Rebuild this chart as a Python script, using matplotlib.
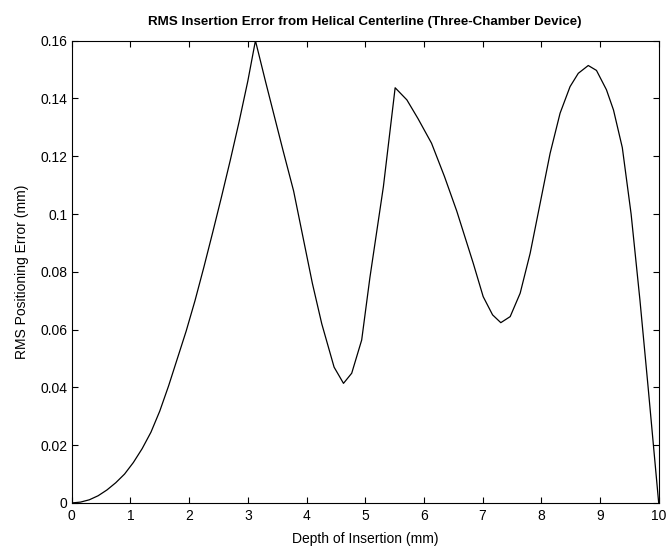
import matplotlib
matplotlib.use("Agg")
import matplotlib.pyplot as plt

# depth of insertion (mm) and RMS error (mm)
depth = [0.00, 0.15, 0.30, 0.45, 0.60, 0.75, 0.90, 1.05, 1.20, 1.35,
         1.50, 1.65, 1.80, 1.95, 2.10, 2.25, 2.40, 2.55, 2.70, 2.85,
         3.00, 3.13, 3.30, 3.45, 3.60, 3.78, 3.95, 4.10, 4.26, 4.47,
         4.63, 4.77, 4.94, 5.08, 5.31, 5.51, 5.71, 5.90, 6.13, 6.35,
         6.56, 6.84, 7.01, 7.17, 7.31, 7.47, 7.64, 7.81, 7.98, 8.15,
         8.32, 8.49, 8.63, 8.80, 8.94, 9.11, 9.23, 9.38, 9.53, 9.68,
         9.82, 10.00]
rms_err = [0.0000, 0.0003, 0.0011, 0.0025, 0.0045, 0.0070, 0.0100, 0.0140, 0.0188, 0.0245,
           0.0318, 0.0405, 0.0500, 0.0595, 0.0700, 0.0815, 0.0935, 0.1058, 0.1185, 0.1318,
           0.1460, 0.1600, 0.1460, 0.1340, 0.1220, 0.1080, 0.0910, 0.0760, 0.0620, 0.0470,
           0.0414, 0.0449, 0.0564, 0.0780, 0.1095, 0.1437, 0.1395, 0.1330, 0.1245, 0.1130,
           0.1010, 0.0830, 0.0714, 0.0651, 0.0624, 0.0645, 0.0726, 0.0864, 0.1037, 0.1210,
           0.1349, 0.1441, 0.1487, 0.1514, 0.1497, 0.1430, 0.1360, 0.1230, 0.1000, 0.0703,
           0.0400, 0.0000]

x_ticks = [0, 1, 2, 3, 4, 5, 6, 7, 8, 9, 10]
y_ticks = [0, 0.02, 0.04, 0.06, 0.08, 0.1, 0.12, 0.14, 0.16]
y_labels = ["0", "0.02", "0.04", "0.06", "0.08", "0.1", "0.12", "0.14", "0.16"]

plt.rcParams["font.family"] = ["Liberation Sans", "DejaVu Sans"]

fig = plt.figure(figsize=(6.69, 5.57), dpi=100)
ax = fig.add_axes([0.1072, 0.0970, 0.8774, 0.8300])

ax.plot(depth, rms_err, color="black", linewidth=0.9)

ax.set_xlim(0, 10)
ax.set_ylim(0, 0.16)
ax.set_xticks(x_ticks)
ax.set_yticks(y_ticks)
ax.set_yticklabels(y_labels)
ax.tick_params(direction="in", length=4, width=0.8, top=True, right=True,
               labelsize=10, colors="black")
ax.tick_params(axis="x", pad=4)
ax.tick_params(axis="y", pad=3)
for sp in ax.spines.values():
    sp.set_linewidth(0.8)

ax.set_title("RMS Insertion Error from Helical Centerline (Three-Chamber Device)",
             fontsize=9.6, fontweight="bold", pad=11)
ax.set_xlabel("Depth of Insertion (mm)", fontsize=10, labelpad=7)
ax.set_ylabel("RMS Positioning Error (mm)", fontsize=10, labelpad=8)

fig.savefig("out.png", dpi=100)
